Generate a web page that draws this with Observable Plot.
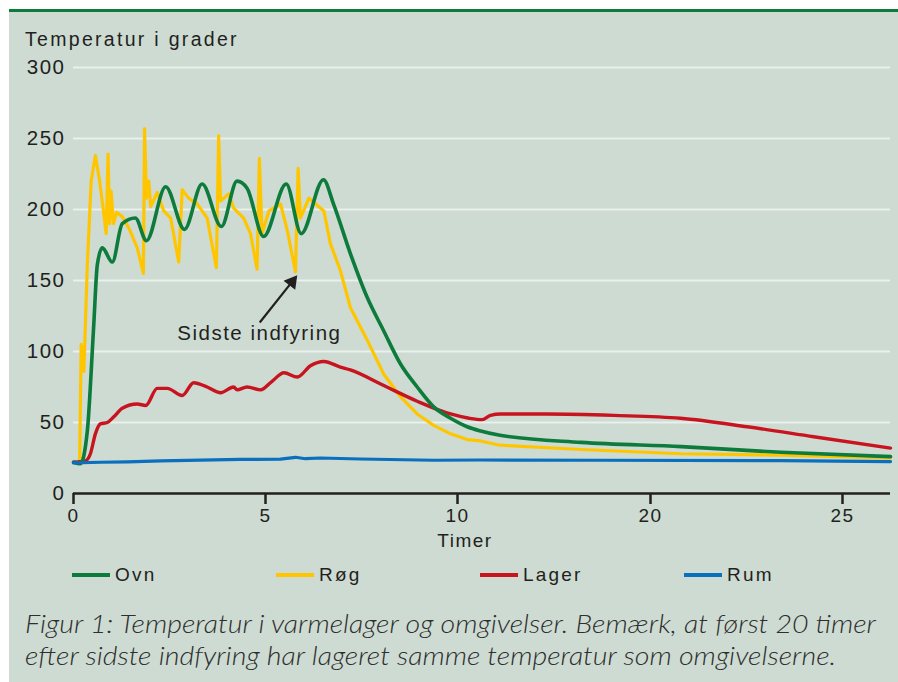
<!DOCTYPE html>
<html>
<head>
<meta charset="utf-8">
<script src="https://cdn.jsdelivr.net/npm/d3@7"></script>
<script src="https://cdn.jsdelivr.net/npm/@observablehq/plot@0.6"></script>
<style>
  body { margin: 0; background: #ffffff; }
  #fig { position: relative; width: 898px; height: 682px; overflow: hidden; background: #ffffff;
         font-family: "Liberation Sans", Arial, Helvetica, sans-serif; color: #231f20; }
  #panel { position: absolute; left: 9px; top: 12px; right: 0; bottom: 0; background: #cddbd2; }
  #rule { position: absolute; left: 9px; top: 9px; right: 0; height: 3px; background: #0d7b3b; }
  #chart { position: absolute; left: 0; top: 0; }
  #ylabel { position: absolute; left: 25px; top: 30px; font-size: 19.5px; letter-spacing: 2.3px;
            line-height: 1; white-space: nowrap; }
  .sw { position: absolute; top: 573px; width: 38px; height: 3.5px; }
  .lt { position: absolute; top: 565px; font-size: 19px; letter-spacing: 2.2px; line-height: 1; white-space: nowrap; }
  .cap { position: absolute; left: 25px; font-family: Lato, "Liberation Sans", Arial, sans-serif;
         font-style: italic; font-weight: 300; font-size: 26px; line-height: 1; color: #2e2e2e;
         white-space: nowrap; transform-origin: 0 0; }
</style>
</head>
<body>
<div id="fig">
  <div id="panel"></div>
  <div id="rule"></div>
  <div id="chart"></div>
  <div id="ylabel">Temperatur i grader</div>
  <div id="legend"></div>
  <div id="cap1" class="cap" style="top:610px">Figur 1: Temperatur i varmelager og omgivelser. Bemærk, at først 20 timer</div>
  <div id="cap2" class="cap" style="top:641.5px">efter sidste indfyring har lageret samme temperatur som omgivelserne.</div>
</div>
<script>
// ---- Data (hours on the x axis as labelled, temperature in degrees) ----
const seriesNames = ["Ovn", "Røg", "Lager", "Rum"];
const seriesColors = ["#0d7b3b", "#ffc600", "#c8141f", "#0a6fbd"];

const ovnHours = [0, 0.18, 0.36, 0.52, 0.62, 0.75, 1.01, 1.27, 1.61, 1.90, 2.40, 2.89, 3.35, 3.85, 4.26, 4.52, 4.95, 5.54, 5.93, 6.51, 6.77, 7.21, 7.65, 8.07, 8.52, 8.95, 9.38, 9.82, 10.5, 11.2, 12.2, 16.4, 20.8, 23.4, 26.25];
const ovnTemp  = [22, 21, 44, 115, 161, 173, 163, 190, 194, 178, 216, 186, 218, 188, 220, 215, 181, 218, 183, 221, 204, 169, 138, 115, 91, 75, 61, 53, 47, 44, 41, 36, 33, 29, 26];

const rogHours = [0, 0.16, 0.20, 0.27, 0.36, 0.46, 0.57, 0.68, 0.77, 0.85, 0.90, 0.94, 0.98, 1.04, 1.12, 1.27, 1.44, 1.66, 1.82, 1.85, 1.90, 1.96, 2.01, 2.18, 2.35, 2.53, 2.74, 2.83, 3.00, 3.22, 3.48, 3.72, 3.78, 3.83, 4.04, 4.17, 4.43, 4.61, 4.78, 4.84, 4.91, 5.09, 5.39, 5.57, 5.78, 5.85, 5.91, 6.13, 6.39, 6.52, 6.69, 6.95, 7.21, 7.65, 8.08, 8.52, 8.95, 9.38, 9.82, 10.5, 11.2, 12.2, 16.4, 20.8, 23.4, 26.25];
const rogTemp  = [22, 22, 105, 86, 161, 220, 238, 220, 201, 183, 239, 190, 213, 190, 198, 195, 187, 173, 155, 257, 208, 220, 202, 212, 199, 194, 163, 214, 208, 204, 194, 159, 252, 206, 211, 201, 194, 183, 158, 236, 183, 199, 204, 185, 156, 229, 194, 208, 202, 199, 176, 157, 131, 108, 84, 68, 56, 48, 42, 38, 37, 34, 31, 28, 27, 25];

const lagerHours = [0, 0.31, 0.44, 0.57, 0.70, 0.88, 1.05, 1.27, 1.66, 1.88, 2.18, 2.44, 2.83, 3.13, 3.48, 3.83, 4.17, 4.26, 4.52, 4.87, 5.17, 5.48, 5.83, 6.17, 6.52, 6.95, 7.21, 8.08, 8.95, 9.82, 10.6, 11.28, 11.71, 12.23, 14.65, 18.1, 20.78, 22.52, 24.25, 26.25];
const lagerTemp  = [22, 23, 28, 42, 49, 50, 54, 60, 63, 62, 74, 74, 69, 78, 75, 71, 75, 73, 75, 73, 79, 85, 82, 90, 93, 89, 87, 76, 65, 56, 53, 52, 55, 56, 56, 55, 53, 47, 40, 32];

const rumHours = [0, 0.7, 1.41, 2.27, 3.31, 4.35, 5.39, 5.78, 6.04, 6.43, 7.47, 9.38, 11.2, 17.4, 23.4, 26.25];
const rumTemp  = [21.5, 22, 22.3, 23, 23.5, 24, 24.2, 25.5, 24.5, 25, 24.3, 23.4, 23.6, 23.4, 23.2, 22.5];

// axis ticks and labels
const xTicks = [0, 5, 10, 20, 25];
const yTicks = [0, 50, 100, 150, 200, 250, 300];
const xBreaks = [0, 10, 20, 26.25];          // the printed axis is not evenly spaced
const xTitle = "Timer";

// annotation
const noteText = "Sidste indfyring";
const notePos = {h: 4.84, t: 112.5};
const arrowTail = {h: 4.85, t: 120.4};
const arrowHead = {h: 5.69, t: 149.0};

// ---- build tables ----
const toRows = (hs, ts) => hs.map((h, i) => ({hours: h, temp: ts[i]}));
const ovn = toRows(ovnHours, ovnTemp);
const rog = toRows(rogHours, rogTemp);
const lager = toRows(lagerHours, lagerTemp);
const rum = toRows(rumHours, rumTemp);

const ink = "#231f20";

const chart = Plot.plot({
  width: 898,
  height: 560,
  marginLeft: 73,
  marginRight: 8,
  marginTop: 67,
  marginBottom: 67,
  style: {background: "transparent", fontFamily: '"Liberation Sans", Arial, Helvetica, sans-serif',
          fontSize: "19px", color: ink, letterSpacing: "1.5px", overflow: "visible"},
  x: {type: "linear", domain: xBreaks, range: [73, 457, 650, 890]},
  y: {domain: [0, 300]},
  marks: [
    Plot.gridY(yTicks.filter(d => d > 0), {stroke: "#eaf0eb", strokeOpacity: 1, strokeWidth: 2}),
    Plot.axisY(yTicks, {tickSize: 0, tickPadding: 8, label: null, fontSize: 20.5, fill: ink}),
    Plot.ruleY([0], {stroke: ink, strokeWidth: 2.5}),
    Plot.axisX(xTicks, {tickSize: 11, tickPadding: 4, label: null, stroke: ink, strokeWidth: 2.5,
                        fill: ink, fontSize: 19, tickFormat: d => String(d)}),
    Plot.text([xTitle], {text: d => d, frameAnchor: "bottom", lineAnchor: "middle", dy: 47, dx: -17, fontSize: 19, fill: ink}),
    Plot.line(rog, {x: "hours", y: "temp", stroke: seriesColors[1], strokeWidth: 3.2}),
    Plot.line(lager, {x: "hours", y: "temp", stroke: seriesColors[2], strokeWidth: 3.4, curve: "monotone-x"}),
    Plot.line(ovn, {x: "hours", y: "temp", stroke: seriesColors[0], strokeWidth: 3.6, curve: "monotone-x"}),
    Plot.line(rum, {x: "hours", y: "temp", stroke: seriesColors[3], strokeWidth: 3.2}),
    Plot.text([notePos], {x: "h", y: "t", text: () => noteText, fontSize: 20.5, fill: ink, textAnchor: "middle"}),
    Plot.link([{x1: arrowTail.h, y1: arrowTail.t, x2: arrowHead.h, y2: arrowHead.t}],
              {x1: "x1", y1: "y1", x2: "x2", y2: "y2", stroke: ink, strokeWidth: 2.2}),
    Plot.dot([arrowHead], {x: "h", y: "t", symbol: "triangle", r: 5.5, fill: ink, stroke: "none", rotate: 38})
  ]
});
document.getElementById("chart").appendChild(chart);

// ---- legend ----
const legendX = [72, 276, 480, 684];
const legend = document.getElementById("legend");
seriesNames.forEach((name, i) => {
  const sw = document.createElement("div");
  sw.className = "sw";
  sw.style.left = legendX[i] + "px";
  sw.style.background = seriesColors[i];
  legend.appendChild(sw);
  const t = document.createElement("div");
  t.className = "lt";
  t.style.left = (legendX[i] + 43) + "px";
  t.textContent = name;
  legend.appendChild(t);
});

// ---- caption width fit ----
const c1 = document.getElementById("cap1"), c2 = document.getElementById("cap2");
const w1 = c1.getBoundingClientRect().width;
const s = 851 / w1;
c1.style.transform = `scaleX(${s})`;
c2.style.transform = `scaleX(${s})`;
</script>
</body>
</html>
